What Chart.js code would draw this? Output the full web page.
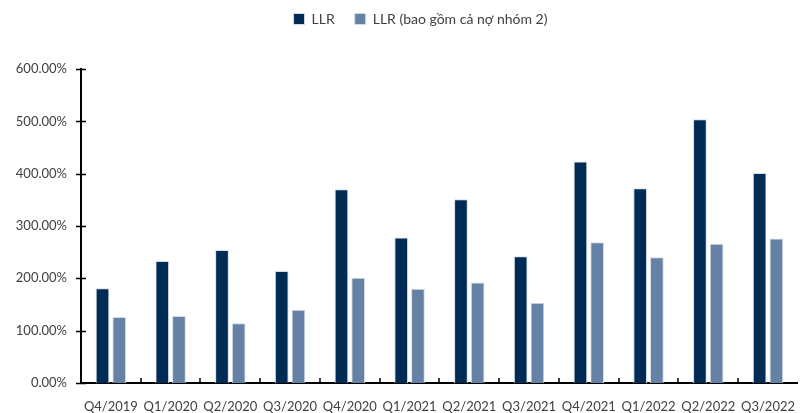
<!DOCTYPE html>
<html>
<head>
<meta charset="utf-8">
<script src="https://cdn.jsdelivr.net/npm/chart.js@4"></script>
<style>
  body { margin: 0; background: #fff; }
  canvas { display: block; }
</style>
</head>
<body>
<canvas id="myChart" width="811" height="413"></canvas>
<script>
const quarters = ["Q4/2019", "Q1/2020", "Q2/2020", "Q3/2020", "Q4/2020", "Q1/2021",
  "Q2/2021", "Q3/2021", "Q4/2021", "Q1/2022", "Q2/2022", "Q3/2022"];
const llr = [181, 233, 254, 214, 370, 278, 351, 242, 423, 372, 504, 401];
const llrNhom2 = [126, 128, 114, 140, 201, 180, 192, 153, 269, 240, 266, 276];
const yTicks = [0, 100, 200, 300, 400, 500, 600];

const ctx = document.getElementById("myChart");
const textColor = "#404040";
const fontName = "Lato";

// nudge the legend to where it sits in the original
const legendShift = {
  id: "legendShift",
  afterLayout(chart) {
    const lg = chart.legend;
    lg.left += 15;
    lg.right += 15;
    lg.top -= 33;
    lg.bottom -= 33;
  },
};

// small tick marks across the axes, like the original
const tickMarks = {
  id: "tickMarks",
  afterDraw(chart) {
    const c = chart.ctx;
    const x = chart.scales.x;
    const y = chart.scales.y;
    c.save();
    c.strokeStyle = "#000";
    c.lineWidth = 1.5;
    c.beginPath();
    yTicks.forEach((v) => {
      const py = Math.round(y.getPixelForValue(v)) + 0.5;
      c.moveTo(x.left - 5, py);
      c.lineTo(x.left + 5, py);
    });
    for (let i = 1; i < quarters.length; i++) {
      const px = Math.round((x.getPixelForTick(i - 1) + x.getPixelForTick(i)) / 2);
      c.moveTo(px, y.bottom - 5);
      c.lineTo(px, y.bottom);
    }
    c.stroke();
    c.restore();
  },
};

const chart = new Chart(ctx, {
  type: "bar",
  data: {
    labels: quarters,
    datasets: [
      {
        label: "LLR",
        data: llr,
        backgroundColor: "#002b55",
        borderColor: "#d3dce7",
        borderWidth: 1,
        categoryPercentage: 0.56,
        barPercentage: 0.82,
      },
      {
        label: "LLR (bao gồm cả nợ nhóm 2)",
        data: llrNhom2,
        backgroundColor: "#6581a6",
        borderColor: "#d3dce7",
        borderWidth: 1,
        categoryPercentage: 0.56,
        barPercentage: 0.82,
      },
    ],
  },
  options: {
    responsive: false,
    devicePixelRatio: 1,
    animation: false,
    layout: { padding: { left: 0, right: 0, top: 25, bottom: -17.5 } },
    plugins: {
      tooltip: { enabled: false },
      legend: {
        position: "top",
        labels: {
          color: textColor,
          font: { family: fontName, size: 14 },
          boxWidth: 11,
          boxHeight: 11,
          padding: 20,
        },
      },
    },
    scales: {
      x: {
        grid: { display: false, drawTicks: false },
        border: { display: true, color: "#000", width: 2 },
        ticks: {
          color: textColor,
          font: { family: fontName, size: 13 },
          padding: 16,
          maxRotation: 0,
          autoSkip: false,
        },
      },
      y: {
        min: 0,
        max: 600,
        afterFit(scale) {
          scale.width = 81;
        },
        afterBuildTicks(scale) {
          scale.ticks = yTicks.map((v) => ({ value: v }));
        },
        grid: { display: false, drawTicks: false },
        border: { display: true, color: "#000", width: 2 },
        ticks: {
          color: textColor,
          font: { family: fontName, size: 13 },
          padding: 14,
          callback: (value) => value.toFixed(2) + "%",
        },
      },
    },
  },
  plugins: [legendShift, tickMarks],
});
</script>
</body>
</html>
